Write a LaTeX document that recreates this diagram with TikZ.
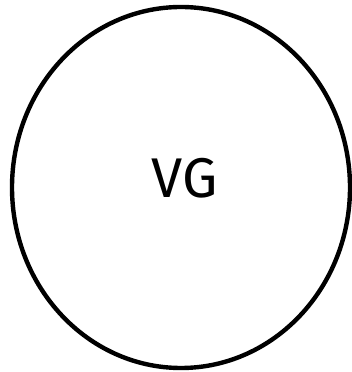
\documentclass[tikz,border=0pt]{standalone}
\usepackage{fontspec}
\setmainfont{Fira Sans}
\usetikzlibrary{shapes.geometric}
\begin{document}
\begin{tikzpicture}[x=1pt,y=1pt,
  ring/.style={draw=black,line width=4.4pt,ellipse,minimum width=338pt,minimum height=361pt,inner sep=0pt},
  lbl/.style={font=\fontsize{56}{60}\selectfont,inner sep=0pt}]
\useasboundingbox (0,0) rectangle (352,372);
\node[ring] (vg) at (181,184.5) {};
\node[lbl] (t) at (185,194) {VG};
\end{tikzpicture}
\end{document}
